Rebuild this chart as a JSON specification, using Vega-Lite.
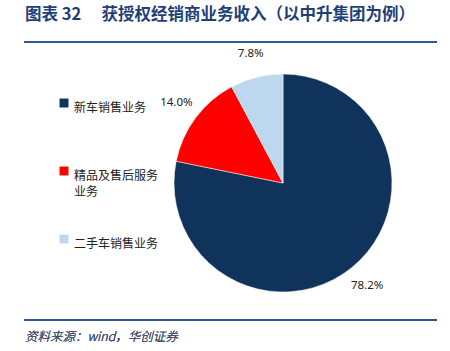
{
  "$schema": "https://vega.github.io/schema/vega-lite/v6.json",
  "width": 334,
  "height": 336,
  "autosize": {"type": "none"},
  "padding": {"left": 116, "top": 15, "right": 0, "bottom": 0},
  "background": "white",
  "config": {
    "view": {"stroke": null},
    "font": "Noto Sans CJK SC",
    "style": {"guide-label": {"lineHeight": 16}}
  },
  "title": {
    "text": "图表 32 \u2003获授权经销商业务收入（以中升集团为例）",
    "anchor": "start",
    "frame": "group",
    "orient": "top",
    "offset": 0,
    "dx": -91,
    "dy": 21,
    "baseline": "alphabetic",
    "fontSize": 16.5,
    "fontWeight": "bold",
    "font": "Noto Sans CJK SC",
    "color": "#1F3F7A"
  },
  "data": {
    "values": [
      {"category": "新车销售业务", "share": 0.782, "order": 1},
      {"category": "精品及售后服务业务", "share": 0.140, "order": 2},
      {"category": "二手车销售业务", "share": 0.078, "order": 3}
    ]
  },
  "layer": [
    {
      "mark": {"type": "arc", "outerRadius": 109, "stroke": "white", "strokeWidth": 0.5},
      "encoding": {
        "theta": {"field": "share", "type": "quantitative", "stack": true},
        "order": {"field": "order", "type": "quantitative"},
        "color": {
          "field": "category",
          "type": "nominal",
          "sort": ["新车销售业务", "精品及售后服务业务", "二手车销售业务"],
          "scale": {
            "domain": ["新车销售业务", "精品及售后服务业务", "二手车销售业务"],
            "range": ["#0F335B", "#FF0000", "#BDD7EE"]
          },
          "legend": {
            "title": null,
            "orient": "none",
            "legendX": -58,
            "legendY": 82,
            "symbolType": "square",
            "symbolSize": 80,
            "symbolStrokeWidth": 0,
            "labelFontSize": 12,
            "labelColor": "#222222",
            "labelFont": "Noto Sans CJK SC",
            "labelLimit": 200,
            "labelOffset": 4,
            "labelBaseline": "top",
            "rowPadding": 35,
            "labelExpr": "datum.label == '精品及售后服务业务' ? ['精品及售后服务', '业务'] : [datum.label, ' ']",
            "encode": {
              "labels": {"update": {"lineHeight": {"value": 16}, "dy": {"value": -8}}}
            }
          }
        }
      }
    },
    {
      "mark": {"type": "text", "radius": 133, "fontSize": 11.5, "color": "#222222", "font": "Noto Sans"},
      "encoding": {
        "theta": {"field": "share", "type": "quantitative", "stack": true},
        "order": {"field": "order", "type": "quantitative"},
        "text": {"field": "share", "type": "quantitative", "format": ".1%"}
      }
    },
    {
      "mark": {"type": "rule", "color": "#2F5597", "strokeWidth": 1.5},
      "encoding": {
        "x": {"value": -92},
        "x2": {"value": 321},
        "y": {"value": 27}
      }
    },
    {
      "mark": {"type": "rule", "color": "#2F5597", "strokeWidth": 1.5},
      "encoding": {
        "x": {"value": -92},
        "x2": {"value": 321},
        "y": {"value": 305}
      }
    },
    {
      "mark": {"type": "text", "align": "left", "baseline": "middle", "fontSize": 12.5, "fontStyle": "italic", "fontWeight": 300, "color": "#3A4A6A", "font": "Noto Sans CJK SC"},
      "encoding": {
        "x": {"value": -91},
        "y": {"value": 322},
        "text": {"value": "资料来源：wind，华创证券"}
      }
    }
  ]
}
